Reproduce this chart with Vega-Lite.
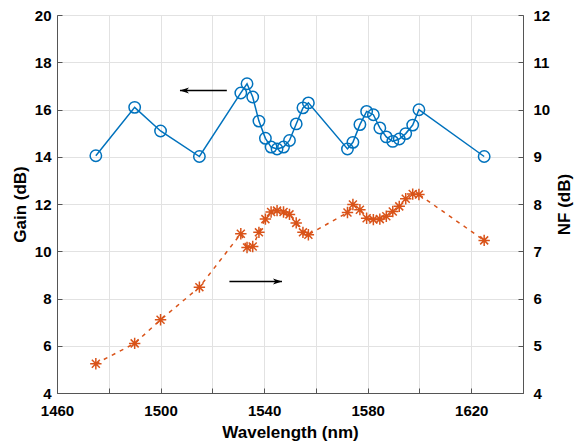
{
  "$schema": "https://vega.github.io/schema/vega-lite/v6.json",
  "width": 466,
  "height": 378,
  "autosize": {"type": "none"},
  "padding": {"left": 57, "top": 15, "right": 51, "bottom": 53},
  "background": "white",
  "config": {
    "view": {"stroke": "#555555", "strokeWidth": 1},
    "font": "Liberation Sans",
    "axis": {
      "labelFont": "Liberation Sans",
      "labelFontWeight": "bold",
      "labelFontSize": 15,
      "labelColor": "#000000",
      "titleFont": "Liberation Sans",
      "titleFontWeight": "bold",
      "titleFontSize": 17,
      "titleColor": "#000000",
      "domainColor": "#555555",
      "tickColor": "#555555",
      "tickSize": -5,
      "gridColor": "#e2e2e2",
      "gridWidth": 1,
      "labelFlush": false,
      "labelOverlap": false
    }
  },
  "datasets": {
    "meas": [
      {"wl": 1475, "gain": 14.04, "nf": 4.62},
      {"wl": 1490, "gain": 16.09, "nf": 5.05},
      {"wl": 1500, "gain": 15.09, "nf": 5.55},
      {"wl": 1515, "gain": 14.01, "nf": 6.24},
      {"wl": 1531, "gain": 16.70, "nf": 7.37},
      {"wl": 1533.4, "gain": 17.09, "nf": 7.08},
      {"wl": 1535.6, "gain": 16.53, "nf": 7.10},
      {"wl": 1538, "gain": 15.51, "nf": 7.40},
      {"wl": 1540.5, "gain": 14.78, "nf": 7.68},
      {"wl": 1542.7, "gain": 14.41, "nf": 7.83},
      {"wl": 1545, "gain": 14.33, "nf": 7.86},
      {"wl": 1547.5, "gain": 14.41, "nf": 7.83},
      {"wl": 1549.8, "gain": 14.69, "nf": 7.78},
      {"wl": 1552.4, "gain": 15.39, "nf": 7.60},
      {"wl": 1555, "gain": 16.07, "nf": 7.40},
      {"wl": 1557.1, "gain": 16.28, "nf": 7.35},
      {"wl": 1572.2, "gain": 14.33, "nf": 7.82},
      {"wl": 1574.3, "gain": 14.61, "nf": 7.99},
      {"wl": 1577, "gain": 15.36, "nf": 7.88},
      {"wl": 1579.6, "gain": 15.92, "nf": 7.70},
      {"wl": 1582.2, "gain": 15.78, "nf": 7.67},
      {"wl": 1584.7, "gain": 15.22, "nf": 7.68},
      {"wl": 1587.2, "gain": 14.84, "nf": 7.74},
      {"wl": 1589.7, "gain": 14.65, "nf": 7.84},
      {"wl": 1592.2, "gain": 14.75, "nf": 7.95},
      {"wl": 1594.7, "gain": 14.98, "nf": 8.11},
      {"wl": 1597.4, "gain": 15.34, "nf": 8.21},
      {"wl": 1599.8, "gain": 15.99, "nf": 8.20},
      {"wl": 1625, "gain": 14.01, "nf": 7.23}
    ],
    "arrowGain": [{"wl": 1507.5, "wl2": 1525.6, "g": 16.8}],
    "arrowNF": [{"wl": 1526.6, "wl2": 1546.9, "n": 6.36}]
  },
  "layer": [
    {
      "layer": [
        {
          "data": {"name": "meas"},
          "mark": {"type": "line", "color": "#0072BD", "strokeWidth": 1.5},
          "encoding": {
            "x": {
              "field": "wl", "type": "quantitative",
              "scale": {"domain": [1460, 1640], "nice": false, "zero": false},
              "axis": {
                "title": "Wavelength (nm)",
                "values": [1460, 1480, 1500, 1520, 1540, 1560, 1580, 1600, 1620, 1640],
                "format": "d",
                "labelExpr": "(datum.value - 1460) % 40 == 0 ? datum.label : ''",
                "labelPadding": 15,
                "titlePadding": 6,
                "grid": true
              }
            },
            "y": {
              "field": "gain", "type": "quantitative",
              "scale": {"domain": [4, 20], "nice": false, "zero": false},
              "axis": {
                "orient": "left",
                "title": "Gain (dB)",
                "values": [4, 6, 8, 10, 12, 14, 16, 18, 20],
                "labelPadding": 11,
                "titlePadding": 5,
                "grid": true
              }
            }
          }
        },
        {
          "data": {"name": "meas"},
          "mark": {"type": "point", "shape": "circle", "filled": false, "color": "#0072BD", "strokeWidth": 1.5, "size": 130, "opacity": 1},
          "encoding": {
            "x": {"field": "wl", "type": "quantitative", "title": "Wavelength (nm)"},
            "y": {"field": "gain", "type": "quantitative", "title": "Gain (dB)"}
          }
        },
        {
          "data": {"name": "arrowGain"},
          "mark": {"type": "rule", "color": "#000000", "strokeWidth": 1.5},
          "encoding": {
            "x": {"field": "wl", "type": "quantitative", "title": "Wavelength (nm)"},
            "x2": {"field": "wl2"},
            "y": {"field": "g", "type": "quantitative", "title": "Gain (dB)"}
          }
        },
        {
          "data": {"name": "arrowGain"},
          "mark": {"type": "point", "shape": "M0,0L3,-1L2.2,0L3,1Z", "filled": true, "color": "#000000", "size": 36, "opacity": 1},
          "encoding": {
            "x": {"field": "wl", "type": "quantitative", "title": "Wavelength (nm)"},
            "y": {"field": "g", "type": "quantitative", "title": "Gain (dB)"}
          }
        }
      ]
    },
    {
      "layer": [
        {
          "data": {"name": "meas"},
          "mark": {"type": "line", "color": "#D95319", "strokeWidth": 1.5, "strokeDash": [4, 5]},
          "encoding": {
            "x": {"field": "wl", "type": "quantitative", "title": "Wavelength (nm)"},
            "y": {
              "field": "nf", "type": "quantitative",
              "scale": {"domain": [4, 12], "nice": false, "zero": false},
              "axis": {
                "orient": "right",
                "title": "NF (dB)",
                "titleAngle": 270,
                "values": [4, 5, 6, 7, 8, 9, 10, 11, 12],
                "labelPadding": 15,
                "titlePadding": 24,
                "grid": false
              }
            }
          }
        },
        {
          "data": {"name": "meas"},
          "mark": {"type": "point", "shape": "M-1,0L1,0M0,-1L0,1M-0.7,-0.7L0.7,0.7M-0.7,0.7L0.7,-0.7", "filled": false, "color": "#D95319", "strokeWidth": 1.5, "size": 130, "opacity": 1},
          "encoding": {
            "x": {"field": "wl", "type": "quantitative", "title": "Wavelength (nm)"},
            "y": {"field": "nf", "type": "quantitative", "title": "NF (dB)"}
          }
        },
        {
          "data": {"name": "arrowNF"},
          "mark": {"type": "rule", "color": "#000000", "strokeWidth": 1.5},
          "encoding": {
            "x": {"field": "wl", "type": "quantitative", "title": "Wavelength (nm)"},
            "x2": {"field": "wl2"},
            "y": {"field": "n", "type": "quantitative", "title": "NF (dB)"}
          }
        },
        {
          "data": {"name": "arrowNF"},
          "mark": {"type": "point", "shape": "M0,0L-3,-1L-2.2,0L-3,1Z", "filled": true, "color": "#000000", "size": 36, "opacity": 1},
          "encoding": {
            "x": {"field": "wl2", "type": "quantitative", "title": "Wavelength (nm)"},
            "y": {"field": "n", "type": "quantitative", "title": "NF (dB)"}
          }
        }
      ]
    }
  ],
  "resolve": {"scale": {"y": "independent"}}
}
